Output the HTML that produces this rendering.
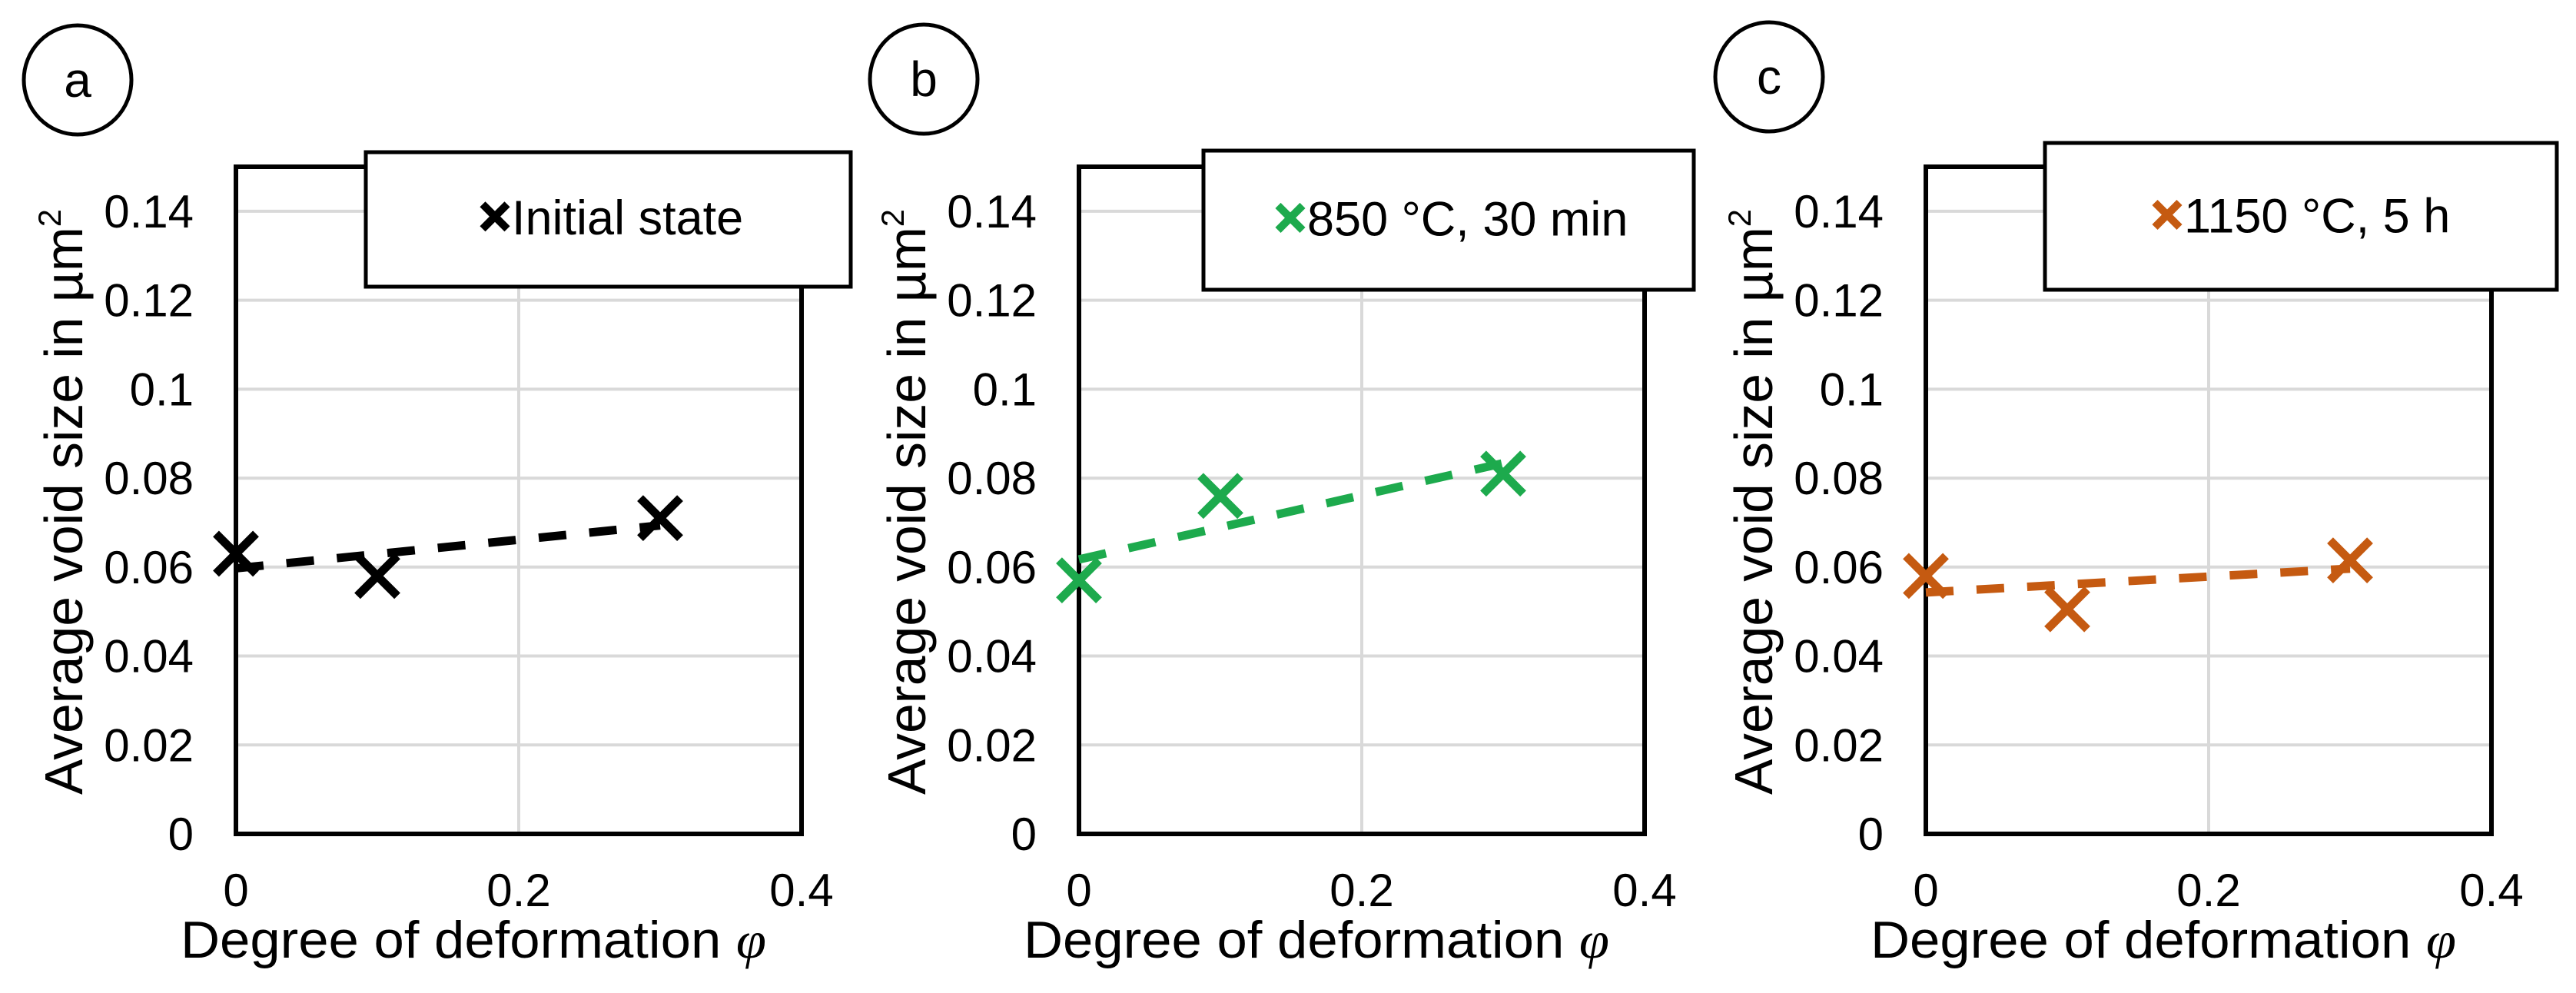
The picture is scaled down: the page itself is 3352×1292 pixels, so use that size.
<!DOCTYPE html>
<html><head><meta charset="utf-8"><style>
html,body{margin:0;padding:0;background:#fff;}
svg{display:block;font-family:"Liberation Sans",Arial,sans-serif;}
</style></head><body>
<svg id="fig" width="3352" height="1292" viewBox="0 0 3352 1292" xmlns="http://www.w3.org/2000/svg"></svg>
<script>
const xTicks = [0, 0.2, 0.4];
const xTickLabels = ["0", "0.2", "0.4"];
const yTicks = [0, 0.02, 0.04, 0.06, 0.08, 0.1, 0.12, 0.14];
const yTickLabels = ["0", "0.02", "0.04", "0.06", "0.08", "0.1", "0.12", "0.14"];
const phiValues = [0, 0.1, 0.3];
const seriesA = [0.063, 0.058, 0.071];
const seriesB = [0.057, 0.076, 0.081];
const seriesC = [0.058, 0.0505, 0.0615];
const panelLabels = ["a", "b", "c"];
const legendLabels = ["Initial state", "850 °C, 30 min", "1150 °C, 5 h"];

const NS = "http://www.w3.org/2000/svg";
const svg = document.getElementById("fig");
function mk(tag, attrs, parent) {
  const e = document.createElementNS(NS, tag);
  for (const k in attrs) e.setAttribute(k, attrs[k]);
  (parent || svg).appendChild(e);
  return e;
}
const panels = [
  {left:307, circ:[101,104], leg:[476,198,1107,373], legOff:150, color:"#000000", data:seriesA},
  {left:1404, circ:[1202,103], leg:[1566,196,2204,377], legOff:95, color:"#1DAA4D", data:seriesB},
  {left:2506, circ:[2302,100], leg:[2661,186,3327,377], legOff:141, color:"#C55A11", data:seriesC}
];
const W = 736, Y0 = 1085, Ytop = 217, yMax = 0.15, xMax = 0.4;

panels.forEach((p, i) => {
  const g = mk("g", {});
  
  
  const sx = v => p.left + v / xMax * W;
  const sy = v => Y0 - v / yMax * (Y0 - Ytop);

  const ce = mk("ellipse", {cx:p.circ[0], cy:p.circ[1], rx:70, ry:71, fill:"none", stroke:"#000", "stroke-width":5}, g);
  
  
  const ct = mk("text", {x:p.circ[0], y:p.circ[1] + 22, "font-size":64, "text-anchor":"middle", fill:"#000"}, g);
  ct.textContent = panelLabels[i];
  
  

  yTicks.forEach(v => {
    if (v === 0) return;
    const l = mk("line", {x1:p.left, x2:p.left + W, y1:sy(v), y2:sy(v), stroke:"#d9d9d9", "stroke-width":4}, g);
    
    
  });
  xTicks.forEach(v => {
    if (v === 0 || v === xMax) return;
    const l = mk("line", {x1:sx(v), x2:sx(v), y1:Ytop, y2:Y0, stroke:"#d9d9d9", "stroke-width":4}, g);
    
    
  });
  const box = mk("rect", {x:p.left, y:Ytop, width:W, height:Y0 - Ytop, fill:"none", stroke:"#000", "stroke-width":6}, g);
  
  

  yTicks.forEach((v, k) => {
    const t = mk("text", {x:p.left - 55, y:sy(v) + 21, "font-size":60, "text-anchor":"end", fill:"#000"}, g);
    t.textContent = yTickLabels[k];
    
    
  });
  xTicks.forEach((v, k) => {
    const t = mk("text", {x:sx(v), y:1179, "font-size":60, "text-anchor":"middle", fill:"#000"}, g);
    t.textContent = xTickLabels[k];
    
    
  });
  const xt = mk("text", {x:p.left - 72, y:1246, "font-size":68, fill:"#000", textLength:762, lengthAdjust:"spacingAndGlyphs"}, g);
  xt.innerHTML = 'Degree of deformation <tspan font-style="italic" font-family="Liberation Serif, serif">φ</tspan>';
  
  
  const yt = mk("text", {x:0, y:0, "font-size":70, "text-anchor":"middle", fill:"#000", transform:`translate(${p.left - 200},653) rotate(-90)`, textLength:762, lengthAdjust:"spacingAndGlyphs"}, g);
  yt.innerHTML = 'Average void size in µm<tspan font-size="42" dy="-28">2</tspan>';
  
  

  const n = phiValues.length;
  const mx = phiValues.reduce((a,b)=>a+b,0)/n;
  const my = p.data.reduce((a,b)=>a+b,0)/n;
  let sxy = 0, sxx = 0;
  phiValues.forEach((x, k) => { sxy += (x-mx)*(p.data[k]-my); sxx += (x-mx)*(x-mx); });
  const slope = sxy / sxx, icpt = my - slope * mx;
  const x0 = phiValues[0], x1 = phiValues[n-1];
  const tl = mk("line", {x1:sx(x0), y1:sy(icpt + slope*x0), x2:sx(x1), y2:sy(icpt + slope*x1), stroke:p.color, "stroke-width":11, "stroke-dasharray":"36 30"}, g);
  
  

  phiValues.forEach((x, k) => {
    const cx = sx(x), cy = sy(p.data[k]), r = 26;
    const m = mk("path", {d:`M${cx-r},${cy-r}L${cx+r},${cy+r}M${cx-r},${cy+r}L${cx+r},${cy-r}`, stroke:p.color, "stroke-width":11, fill:"none"}, g);
    
    
  });

  const L = p.leg;
  const lg = mk("rect", {x:L[0], y:L[1], width:L[2]-L[0], height:L[3]-L[1], fill:"#fff", stroke:"#000", "stroke-width":5}, g);
  
  
  const ly = L[1] + (L[3]-L[1]) * 0.61;
  const lmx = L[0] + p.legOff + 18, lmy = ly - 23, rr = 16;
  const lm = mk("path", {d:`M${lmx-rr},${lmy-rr}L${lmx+rr},${lmy+rr}M${lmx-rr},${lmy+rr}L${lmx+rr},${lmy-rr}`, stroke:p.color, "stroke-width":10, fill:"none"}, g);
  
  
  const lt = mk("text", {x:L[0] + p.legOff + 40, y:ly, "font-size":63, fill:"#000"}, g);
  lt.textContent = legendLabels[i];
  
  
});
</script>
</body></html>
